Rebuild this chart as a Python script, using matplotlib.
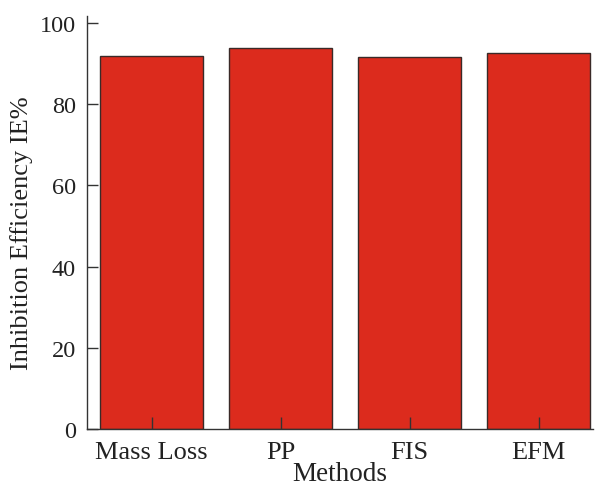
import matplotlib
matplotlib.use("Agg")
import matplotlib.pyplot as plt

# Data
methods = ["Mass Loss", "PP", "FIS", "EFM"]
inhibition = [92.0, 93.9, 91.6, 92.7]

plt.rcParams["font.family"] = ["Liberation Serif", "DejaVu Serif"]

fig = plt.figure(figsize=(5.98, 4.89), dpi=100)
ax = fig.add_axes([0.1455, 0.1207, 0.846, 0.844])

x = range(len(methods))
ax.bar(x, inhibition, width=0.8, color="#dc2b1d", edgecolor="#3a2a28", linewidth=1.0)

ax.set_xlim(-0.5, 3.42)
ax.set_ylim(0, 101.7)
ax.set_yticks([0, 20, 40, 60, 80, 100])
ax.set_xticks(list(x))
ax.set_xticklabels(methods)

for side in ["top", "right"]:
    ax.spines[side].set_visible(False)
for side in ["left", "bottom"]:
    ax.spines[side].set_color("#333333")
    ax.spines[side].set_linewidth(1.0)

ax.tick_params(axis="y", direction="in", length=8, width=1, color="#333333",
               labelsize=17.5, pad=8, labelcolor="#222222")
ax.tick_params(axis="x", direction="in", length=9, width=1, color="#333333",
               labelsize=19, pad=9, labelcolor="#222222")

ax.set_xlabel("Methods", fontsize=19.5, color="#222222", labelpad=-2)
ax.set_ylabel("Inhibition Efficiency IE%", fontsize=19, color="#222222", labelpad=5)
ax.yaxis.set_label_coords(-0.107, 0.476)

fig.savefig("out.png", dpi=100)
